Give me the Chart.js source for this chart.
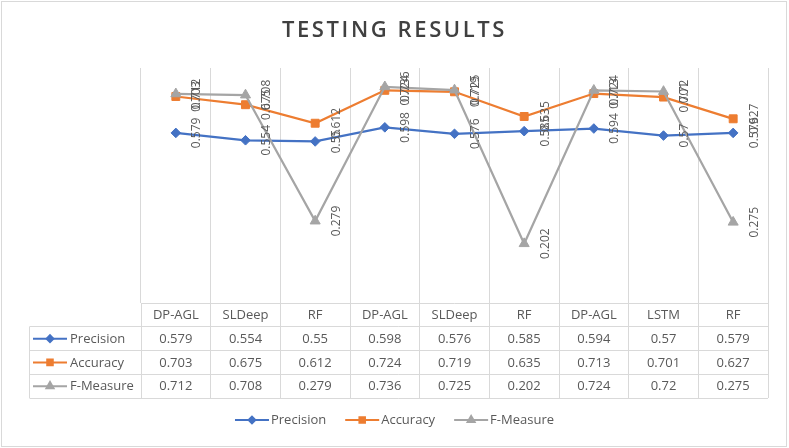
<!DOCTYPE html>
<html>
<head>
<meta charset="utf-8">
<title>Testing Results</title>
<script src="https://cdn.jsdelivr.net/npm/chart.js@4.4.0/dist/chart.umd.min.js"></script>
<style>
  html, body { margin: 0; padding: 0; background: #fff; }
  #wrap { width: 789px; height: 448px; }
</style>
</head>
<body>
<div id="wrap"><canvas id="resultsChart" width="789" height="448"></canvas></div>
<script>
// Chart data
const categories = ['DP-AGL', 'SLDeep', 'RF', 'DP-AGL', 'SLDeep', 'RF', 'DP-AGL', 'LSTM', 'RF'];
const precision = [0.579, 0.554, 0.55, 0.598, 0.576, 0.585, 0.594, 0.57, 0.579];
const accuracy = [0.703, 0.675, 0.612, 0.724, 0.719, 0.635, 0.713, 0.701, 0.627];
const fMeasure = [0.712, 0.708, 0.279, 0.736, 0.725, 0.202, 0.724, 0.72, 0.275];
const seriesNames = ['Precision', 'Accuracy', 'F-Measure'];

const colors = ['#4472C4', '#ED7D31', '#A5A5A5'];
const markers = ['rectRot', 'rect', 'triangle'];
const markerSizes = [4.8, 5.6, 5.8];
const textColor = '#595959';
const lineColor = '#d9d9d9';
const baseFont = '"Open Sans", "Liberation Sans", sans-serif';

// small line + marker key, used in the table and the legend
function drawKey(ctx, x, y, i, radius) {
    ctx.save();
    ctx.strokeStyle = colors[i];
    ctx.fillStyle = colors[i];
    ctx.lineWidth = 2;
    ctx.beginPath();
    ctx.moveTo(x, y);
    ctx.lineTo(x + 34, y);
    ctx.stroke();
    Chart.helpers.drawPoint(ctx, { pointStyle: markers[i], radius: radius, borderWidth: 1, rotation: 0 }, x + 17, y);
    ctx.restore();
}

const align = (v) => Math.round(v - 0.5) + 0.5;

const framePlugin = {
    id: 'frame',
    beforeDraw(chart) {
        const ctx = chart.ctx;
        ctx.save();
        ctx.fillStyle = '#fff';
        ctx.fillRect(0, 0, chart.width, chart.height);
        ctx.strokeStyle = lineColor;
        ctx.lineWidth = 1;
        ctx.strokeRect(1.5, 1.5, chart.width - 4, chart.height - 3);
        ctx.restore();
        // spaced title letters
        ctx.letterSpacing = '2.6px';
    },
    beforeDatasetsDraw(chart) {
        chart.ctx.letterSpacing = '0px';
    },
    afterDatasetsDraw(chart) {
        // rotated value labels
        const ctx = chart.ctx;
        ctx.save();
        ctx.font = '12px ' + baseFont;
        ctx.fillStyle = textColor;
        ctx.textAlign = 'center';
        ctx.textBaseline = 'middle';
        chart.data.datasets.forEach((ds, i) => {
            chart.getDatasetMeta(i).data.forEach((pt, j) => {
                ctx.save();
                ctx.translate(pt.x + 21, pt.y);
                ctx.rotate(-Math.PI / 2);
                ctx.fillText(String(ds.data[j]), 0, 0);
                ctx.restore();
            });
        });
        ctx.restore();
    },
    afterDraw(chart) {
        const ctx = chart.ctx;
        const area = chart.chartArea;
        const xs = chart.scales.x;
        const n = categories.length;
        const colW = (area.right - area.left) / n;
        const top = area.bottom;
        const rowH = 23.75;
        const labelLeft = 29.5;
        const rows = [precision, accuracy, fMeasure];

        ctx.save();
        ctx.strokeStyle = lineColor;
        ctx.lineWidth = 1;
        ctx.beginPath();
        for (let i = 0; i <= n; i++) {
            const x = align(area.left + i * colW);
            ctx.moveTo(x, top);
            ctx.lineTo(x, top + rowH * 4);
        }
        ctx.moveTo(labelLeft, top + rowH);
        ctx.lineTo(labelLeft, top + rowH * 4);
        ctx.moveTo(area.left, align(top));
        ctx.lineTo(area.right, align(top));
        for (let r = 1; r <= 4; r++) {
            const y = align(top + rowH * r);
            ctx.moveTo(labelLeft, y);
            ctx.lineTo(area.right, y);
        }
        ctx.stroke();

        ctx.font = '13px ' + baseFont;
        ctx.fillStyle = textColor;
        ctx.textBaseline = 'middle';
        ctx.textAlign = 'center';
        categories.forEach((c, j) => {
            ctx.fillText(c, xs.getPixelForValue(j), top + rowH / 2 + 0.5);
        });
        rows.forEach((vals, r) => {
            const cy = top + rowH * (r + 1) + rowH / 2 + 0.5;
            vals.forEach((v, j) => {
                ctx.fillText(String(v), xs.getPixelForValue(j), cy);
            });
        });
        ctx.textAlign = 'left';
        seriesNames.forEach((name, r) => {
            const cy = top + rowH * (r + 1) + rowH / 2;
            drawKey(ctx, 33, cy, r, markerSizes[r] * 0.7);
            ctx.fillStyle = textColor;
            ctx.fillText(name, 70, cy + 0.5);
        });

        // legend
        const gap = 19;
        const widths = seriesNames.map((s) => 36 + ctx.measureText(s).width);
        const total = widths.reduce((a, b) => a + b, 0) + gap * (widths.length - 1);
        let x = chart.width / 2 - total / 2;
        const ly = 420;
        seriesNames.forEach((name, r) => {
            drawKey(ctx, x, ly, r, markerSizes[r] * 0.7);
            ctx.fillStyle = textColor;
            ctx.fillText(name, x + 36, ly + 0.5);
            x += widths[r] + gap;
        });
        ctx.restore();
    }
};

const seriesData = [precision, accuracy, fMeasure];

// invisible side axes that only reserve room for the data table labels
const spacerAxis = (pos, w) => ({
    position: pos,
    display: true,
    min: 0,
    max: 0.8,
    grid: { display: false, drawTicks: false },
    border: { display: false },
    ticks: { display: false },
    afterFit(axis) { axis.width = w; }
});

new Chart(document.getElementById('resultsChart'), {
    type: 'line',
    data: {
        labels: categories,
        datasets: seriesNames.map((name, i) => ({
            label: name,
            data: seriesData[i],
            borderColor: colors[i],
            backgroundColor: colors[i],
            borderWidth: 2.25,
            pointStyle: markers[i],
            pointRadius: markerSizes[i],
            pointBorderWidth: 1,
            tension: 0,
            order: 2 - i
        }))
    },
    options: {
        responsive: false,
        animation: false,
        devicePixelRatio: 1,
        events: [],
        layout: {
            padding: { left: 0, right: 0, top: 0, bottom: 145 }
        },
        plugins: {
            legend: { display: false },
            tooltip: { enabled: false },
            title: {
                display: true,
                text: 'TESTING RESULTS',
                color: '#404040',
                font: { family: baseFont, size: 22, weight: '600' },
                padding: { top: 18, bottom: 23.6 }
            }
        },
        scales: {
            x: {
                offset: true,
                grid: { offset: true, color: lineColor, drawTicks: false },
                border: { display: false },
                ticks: { display: false }
            },
            y: spacerAxis('left', 141),
            yRight: spacerAxis('right', 21)
        }
    },
    plugins: [framePlugin]
});
</script>
</body>
</html>
